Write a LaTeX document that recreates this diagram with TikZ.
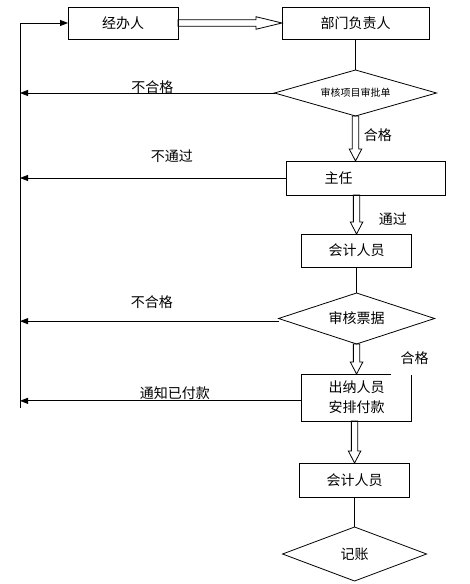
\documentclass[tikz,border=0pt]{standalone}
\usepackage{fontspec}
\newfontfamily\cjk{Noto Sans CJK SC}
\usetikzlibrary{positioning}
\usetikzlibrary{shapes.geometric}
\usetikzlibrary{arrows.meta}
\usetikzlibrary{calc}

\begin{document}
\begin{tikzpicture}[
  x=0.75pt, y=-0.75pt,
  font=\cjk\fontsize{10.5}{15}\selectfont,
  box/.style={draw, line width=0.6pt, outer sep=0pt, align=center, minimum width=82.5pt, minimum height=24pt, inner sep=2pt},
  check/.style={draw, line width=0.6pt, outer sep=0pt, diamond, aspect=3, inner sep=0pt, align=center},
  link/.style={line width=0.6pt},
  arrow/.style={-{Triangle[length=6pt, width=4.5pt]}, line width=0.6pt},
  hollow/.style={draw, line width=0.6pt, line join=miter, to path={
      ($(\tikztostart)!2.4pt!90:(\tikztotarget)$)
      -- ($(\tikztotarget)!#1!(\tikztostart)!2.4pt!-90:(\tikztostart)$)
      -- ($(\tikztotarget)!#1!(\tikztostart)!4.7pt!-90:(\tikztostart)$)
      -- (\tikztotarget)
      -- ($(\tikztotarget)!#1!(\tikztostart)!4.7pt!90:(\tikztostart)$)
      -- ($(\tikztotarget)!#1!(\tikztostart)!2.4pt!90:(\tikztostart)$)
      -- ($(\tikztostart)!2.4pt!-90:(\tikztotarget)$)
      -- cycle}},
  hollow/.default=9pt,
  lbl/.style={inner sep=1pt}
]
\useasboundingbox (0,0) rectangle (469,584);

\node[box] (handler) at (123,23) {经办人};
\node[box, minimum width=110.25pt, right=78pt of handler] (dept) {部门负责人};
\node[check, minimum width=121.5pt, minimum height=34.5pt, font=\cjk\fontsize{7.5}{9}\selectfont, below=23.25pt of dept] (chk1) {审核项目审批单};
\node[box, minimum width=119.25pt, minimum height=25.5pt, text width=62.25pt, inner xsep=28.5pt, align=left, below=33.75pt of chk1, xshift=7.9pt] (chief) {主任};
\node[box, minimum height=24.75pt, below=29.25pt of chief, xshift=-7.1pt] (acct) {会计人员};
\node[check, minimum width=117pt, minimum height=38.25pt, below=19.5pt of acct] (chk2) {审核票据};
\node[box, minimum height=35.25pt, below=22.5pt of chk2] (cashier) {出纳人员\\安排付款};
\node[box, minimum height=25.5pt, below=31.5pt of cashier, xshift=-1.5pt] (acct2) {会计人员};
\node[check, minimum width=108pt, minimum height=40.5pt, below=22.5pt of acct2] (post) {记账};

% return rail on the left
\coordinate (railtop) at (20,23);
\coordinate (railbot) at (20,408);
\draw[arrow] (railbot) -- (railtop) -- (handler.west);

\draw[arrow] (chk1.west) -- node[lbl, above=-1.5pt, pos=0.48]{不合格} (chk1.west -| railtop);
\draw[arrow] (chief.west) -- node[lbl, above=10pt, pos=0.43]{不通过} (chief.west -| railtop);
\draw[arrow] ([yshift=-2pt]chk2.west) -- node[lbl, above=8pt, pos=0.49]{不合格} ([yshift=-2pt]chk2.west -| railtop);
\draw[arrow] ([yshift=-2.5pt]cashier.west) -- node[lbl, above=-0.5pt, pos=0.45]{通知已付款} ([yshift=-2.5pt]cashier.west -| railtop);

% main flow
\coordinate (chiefin) at (chk1.south |- chief.north);
\coordinate (chiefout) at (acct.north |- chief.south);
\coordinate (cashout) at (acct2.north |- cashier.south);
\draw[hollow=19.5pt] (handler.east) to (dept.west);
\draw[link] (dept) -- (chk1);
\draw[hollow] (chk1.south) to (chiefin);
\draw[hollow] (chiefout) to (acct.north);
\draw[link] (acct) -- (chk2);
\draw[hollow] (chk2.south) to (cashier.north);
\draw[hollow] (cashout) to (acct2.north);
\draw[link] (acct2) -- (post);

\node[lbl, anchor=west, xshift=5pt] (pass1) at ($(chk1.south)!0.42!(chiefin)$) {合格};
\node[lbl, anchor=west, xshift=15.5pt] (pass2) at ($(chiefout)!0.62!(acct.north)$) {通过};
\node[lbl, fill=white, inner xsep=7pt, inner ysep=8pt] (pass3) at ([xshift=2.25pt, yshift=12pt]cashier.north east) {合格};

\end{tikzpicture}
\end{document}
